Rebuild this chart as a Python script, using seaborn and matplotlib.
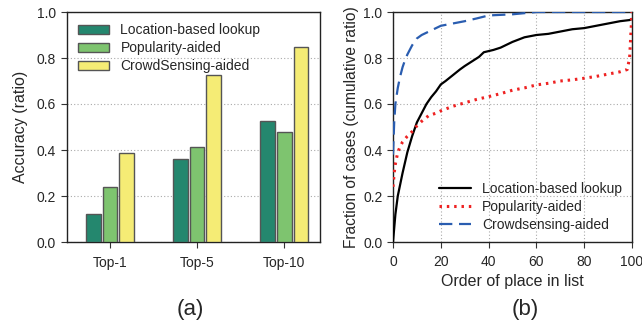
import numpy as np
import pandas as pd
import matplotlib
matplotlib.use("Agg")
import matplotlib.pyplot as plt
import seaborn as sns

# ---- data (a) ----
categories = ["Top-1", "Top-5", "Top-10"]
methods_a = ["Location-based lookup", "Popularity-aided", "CrowdSensing-aided"]
loc_acc = [0.12, 0.36, 0.525]
pop_acc = [0.24, 0.415, 0.48]
crowd_acc = [0.385, 0.725, 0.85]

# ---- data (b) ----
loc_x = [0, 1, 2, 4, 6, 8, 10, 12, 14, 16, 18, 20, 22, 25, 28, 30, 33, 36, 38, 42, 45, 50, 55, 60, 65, 70, 75, 80, 85, 90, 95, 99, 100]
loc_y = [0.0, 0.12, 0.20, 0.30, 0.39, 0.46, 0.52, 0.56, 0.60, 0.63, 0.655, 0.685, 0.70, 0.725, 0.75, 0.765, 0.785, 0.805, 0.825, 0.835, 0.845, 0.87, 0.89, 0.90, 0.905, 0.915, 0.925, 0.93, 0.94, 0.95, 0.96, 0.965, 0.97]
pop_x = [0, 0.5, 1, 2, 3, 4, 6, 8, 10, 12, 15, 18, 20, 25, 30, 35, 40, 45, 50, 55, 60, 65, 70, 75, 80, 85, 90, 95, 98, 99, 100]
pop_y = [0.24, 0.30, 0.34, 0.39, 0.415, 0.435, 0.46, 0.48, 0.505, 0.525, 0.55, 0.56, 0.57, 0.59, 0.605, 0.62, 0.632, 0.645, 0.66, 0.67, 0.683, 0.69, 0.70, 0.705, 0.712, 0.72, 0.73, 0.74, 0.75, 0.80, 1.0]
crowd_x = [0, 0.5, 1, 2, 3, 4, 5, 6, 8, 10, 12, 15, 18, 20, 25, 30, 35, 40, 50, 60, 70, 80, 90, 100]
crowd_y = [0.38, 0.52, 0.60, 0.67, 0.72, 0.76, 0.79, 0.815, 0.855, 0.885, 0.90, 0.915, 0.93, 0.94, 0.95, 0.96, 0.972, 0.985, 0.99, 1.0, 1.0, 1.0, 1.0, 1.0]
methods_b = ["Location-based lookup", "Popularity-aided", "Crowdsensing-aided"]

sns.set_theme(style="ticks")
plt.rcParams["font.family"] = ["Liberation Sans", "DejaVu Sans"]
plt.rcParams["font.size"] = 10

fig = plt.figure(figsize=(6.42, 3.25), dpi=100)
ax1 = fig.add_axes([67/642, 1-242/325, (320-67)/642, (242-12)/325])
ax2 = fig.add_axes([393/642, 1-242/325, (632-393)/642, (242-12)/325])

# ---- (a) bars ----
df_a = pd.DataFrame({
    "cat": categories * 3,
    "method": [methods_a[0]] * 3 + [methods_a[1]] * 3 + [methods_a[2]] * 3,
    "acc": loc_acc + pop_acc + crowd_acc,
})
bar_colors = ["#24876e", "#7ec46f", "#f5ec75"]
sns.barplot(data=df_a, x="cat", y="acc", hue="method", hue_order=methods_a,
            palette=bar_colors, width=0.57, gap=0.12, edgecolor="#555555",
            linewidth=1.0, saturation=1, ax=ax1, errorbar=None, zorder=3)
ax1.set_xlim(-0.494, 2.41)
ax1.set_ylim(0, 1.0)
ax1.set_yticks(np.arange(0, 1.01, 0.2))
ax1.set_yticklabels([f"{v:.1f}" for v in np.arange(0, 1.01, 0.2)])
ax1.set_xlabel("")
ax1.set_ylabel("Accuracy (ratio)", fontsize=11.5, labelpad=6)
ax1.yaxis.grid(True, linestyle=(0, (1, 2)), color="#aaaaaa", linewidth=0.8, zorder=0)
ax1.set_axisbelow(True)
ax1.legend(loc="upper left", frameon=False, fontsize=10, handlelength=2.25,
           handleheight=0.65, labelspacing=0.3, borderaxespad=0.4)
ax1.tick_params(labelsize=10, length=4, width=0.8, color="#333333", pad=4)
ax1.tick_params(axis="x", pad=6)
for s in ax1.spines.values():
    s.set_linewidth(1.0)
    s.set_color("#222222")

# ---- (b) CDF lines ----
sns.lineplot(x=loc_x, y=loc_y, ax=ax2, color="black", linewidth=1.6,
             label=methods_b[0], zorder=3)
sns.lineplot(x=pop_x, y=pop_y, ax=ax2, color="#ee2222", linewidth=2.2,
             linestyle=(0, (0.8, 1.6)), label=methods_b[1], zorder=3)
sns.lineplot(x=crowd_x, y=crowd_y, ax=ax2, color="#2a5db0", linewidth=1.6,
             linestyle=(0, (6, 3)), label=methods_b[2], zorder=3)
ax2.set_xlim(0, 100)
ax2.set_ylim(0, 1.0)
ax2.set_xticks(np.arange(0, 101, 20))
ax2.set_yticks(np.arange(0, 1.01, 0.2))
ax2.set_yticklabels([f"{v:.1f}" for v in np.arange(0, 1.01, 0.2)])
ax2.set_xlabel("Order of place in list", fontsize=11.5, labelpad=4)
ax2.set_ylabel("Fraction of cases (cumulative ratio)", fontsize=11.2, labelpad=3)
ax2.grid(True, linestyle=(0, (1, 2)), color="#aaaaaa", linewidth=0.8, zorder=0)
ax2.set_axisbelow(True)
ax2.legend(loc="lower right", frameon=False, fontsize=10, handlelength=2.3,
           labelspacing=0.3, borderaxespad=0.3)
ax2.tick_params(labelsize=10, length=4, width=0.8, color="#333333")
ax2.tick_params(axis="x", pad=5)
for s in ax2.spines.values():
    s.set_linewidth(1.0)
    s.set_color("#222222")

fig.text(190/642, 1-310/325, "(a)", fontsize=16, ha="center", va="center")
fig.text(525/642, 1-310/325, "(b)", fontsize=16, ha="center", va="center")

fig.savefig("out.png", dpi=100)
